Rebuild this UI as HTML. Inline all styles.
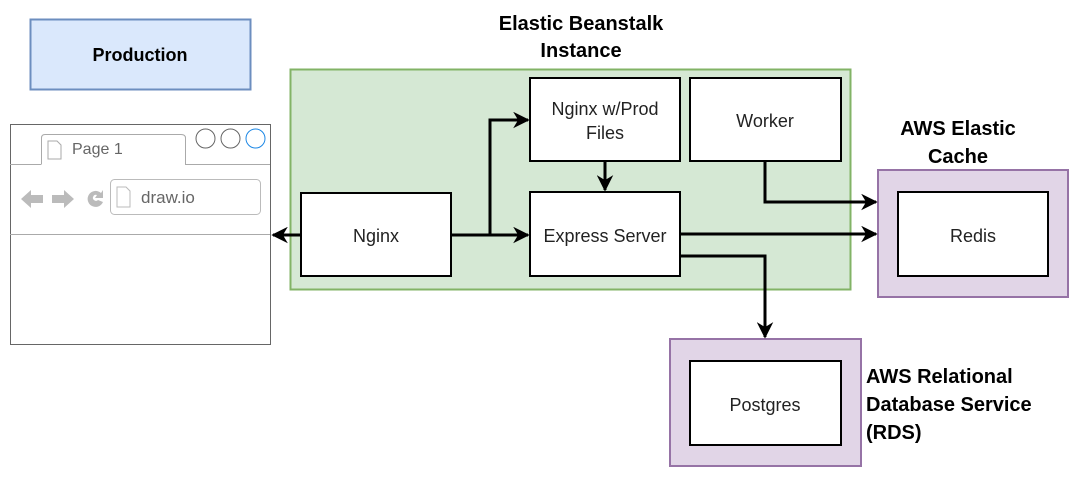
<!DOCTYPE html>
<html><head><meta charset="utf-8"><style>html,body{margin:0;padding:0;background:#fff}</style></head>
<body>
<svg width="1086" height="478" viewBox="0 0 1086 478" xmlns="http://www.w3.org/2000/svg" font-family="Liberation Sans, Arial, sans-serif">
<defs>
<marker id="a" viewBox="0 0 10 10" refX="9" refY="5" markerWidth="5.5" markerHeight="5.5" orient="auto-start-reverse" markerUnits="strokeWidth">
<path d="M0,0 L10,5 L0,10 L3,5 z" fill="#000"/></marker>
</defs>
<rect x="30.5" y="19.5" width="220" height="70" fill="#dae8fc" stroke="#6c8ebf" stroke-width="2"/>
<text x="140" y="61" text-anchor="middle" font-size="18" font-weight="bold">Production</text>

<rect x="10.5" y="124.5" width="260" height="220" fill="#fff" stroke="#666" stroke-width="1"/>
<line x1="10" y1="164.5" x2="41" y2="164.5" stroke="#aaa"/>
<line x1="185" y1="164.5" x2="270" y2="164.5" stroke="#aaa"/>
<path d="M41.5,164.5 V138 Q41.5,134.5 45,134.5 H181 Q185.5,134.5 185.5,138 V164.5" fill="#fff" stroke="#aaa"/>
<path d="M48,141 h9 l4,4 v14 h-13 z" fill="#fff" stroke="#aaa"/>
<text x="72" y="154" font-size="16" fill="#666">Page 1</text>
<circle cx="205.5" cy="138.5" r="9.5" fill="#fff" stroke="#666"/>
<circle cx="230.5" cy="138.5" r="9.5" fill="#fff" stroke="#666"/>
<circle cx="255.5" cy="138.5" r="9.5" fill="#fff" stroke="#1e88e5"/>
<path d="M21,199 l10,-9 v5 h12 v8 h-12 v5 z" fill="#bbb"/>
<path d="M74,199 l-10,-9 v5 h-12 v8 h12 v5 z" fill="#bbb"/>
<path d="M101,193 a8,8 0 1 0 2,9 l-5,-2 a3,3 0 1 1 -1,-5 l-2,3 h8 v-8 z" fill="#bbb"/>
<rect x="110.5" y="179.5" width="150" height="35" rx="4" fill="#fff" stroke="#bbb"/>
<path d="M117,187 h9 l4,4 v16 h-13 z" fill="#fff" stroke="#bbb"/>
<text x="141" y="203" font-size="17" fill="#666">draw.io</text>
<line x1="10" y1="234.5" x2="270" y2="234.5" stroke="#aaa"/>

<rect x="290.5" y="69.5" width="560" height="220" fill="#d5e8d4" stroke="#82b366" stroke-width="2"/>
<text x="581" y="30" text-anchor="middle" font-size="20" font-weight="bold">Elastic Beanstalk</text>
<text x="581" y="57" text-anchor="middle" font-size="20" font-weight="bold">Instance</text>

<g fill="#fff" stroke="#000" stroke-width="2">
<rect x="301" y="193" width="150" height="83"/>
<rect x="530" y="78" width="150" height="83"/>
<rect x="690" y="78" width="151" height="83"/>
<rect x="530" y="192" width="150" height="84"/>
</g>
<g font-size="18" fill="#222" text-anchor="middle">
<text x="376" y="242">Nginx</text>
<text x="605" y="115">Nginx w/Prod</text>
<text x="605" y="139">Files</text>
<text x="765" y="127">Worker</text>
<text x="605" y="242">Express Server</text>
</g>

<rect x="878" y="170" width="190" height="127" fill="#e1d5e7" stroke="#9673a6" stroke-width="2"/>
<rect x="898" y="192" width="150" height="84" fill="#fff" stroke="#000" stroke-width="2"/>
<text x="973" y="242" text-anchor="middle" font-size="18" fill="#222">Redis</text>
<text x="958" y="135" text-anchor="middle" font-size="20" font-weight="bold">AWS Elastic</text>
<text x="958" y="163" text-anchor="middle" font-size="20" font-weight="bold">Cache</text>

<rect x="670" y="339" width="191" height="127" fill="#e1d5e7" stroke="#9673a6" stroke-width="2"/>
<rect x="690" y="361" width="151" height="84" fill="#fff" stroke="#000" stroke-width="2"/>
<text x="765" y="411" text-anchor="middle" font-size="18" fill="#222">Postgres</text>
<g font-size="20" font-weight="bold">
<text x="866" y="383">AWS Relational</text>
<text x="866" y="411">Database Service</text>
<text x="866" y="439">(RDS)</text>
</g>

<g stroke="#000" stroke-width="3" fill="none">
<path d="M301,235 H273" marker-end="url(#a)"/>
<path d="M451,235 H528" marker-end="url(#a)"/>
<path d="M490,235 V120 H528" marker-end="url(#a)"/>
<path d="M605,161 V190" marker-end="url(#a)"/>
<path d="M680,234 H876" marker-end="url(#a)"/>
<path d="M765,161 V202 H876" marker-end="url(#a)"/>
<path d="M680,256 H765 V337" marker-end="url(#a)"/>
</g>
</svg>
</body></html>
